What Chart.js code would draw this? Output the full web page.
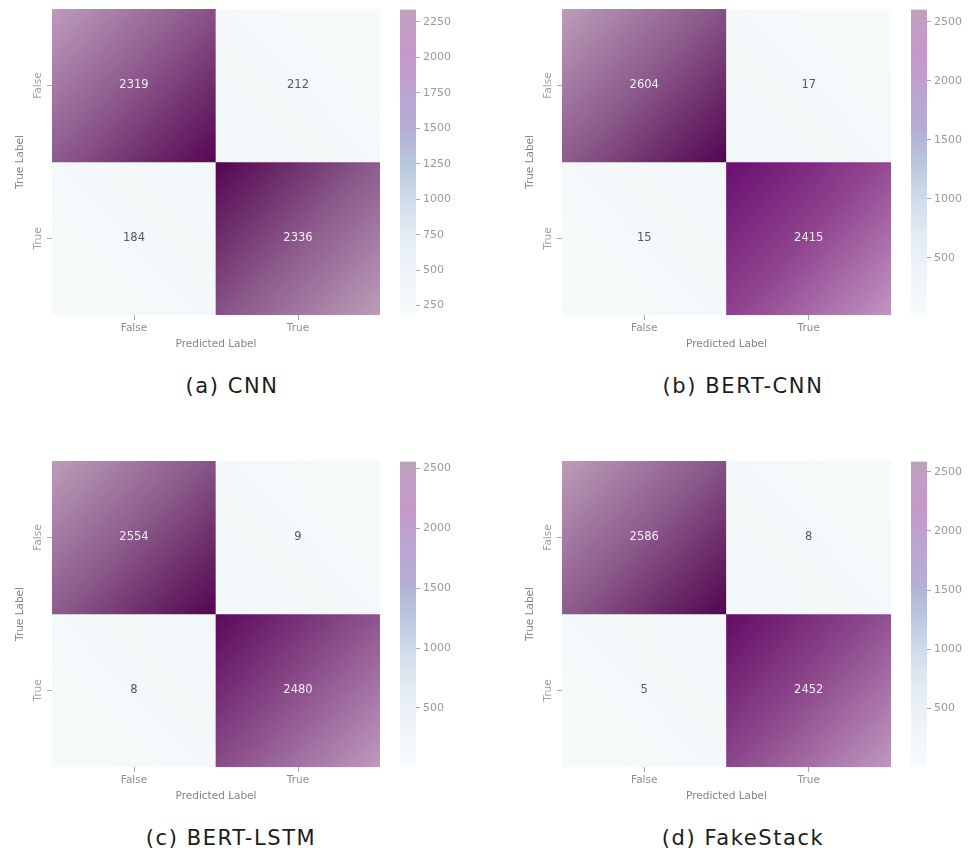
<!DOCTYPE html>
<html>
<head>
<meta charset="utf-8">
<script src="https://cdn.jsdelivr.net/npm/chart.js@4.4.1/dist/chart.umd.min.js"></script>
<style>
  html, body { margin: 0; padding: 0; background: #ffffff; }
  body { width: 974px; height: 854px; position: relative; overflow: hidden; font-family: "DejaVu Sans", sans-serif; }
  canvas { position: absolute; }
  .cap { position: absolute; font-size: 21px; color: #1c1c1c; letter-spacing: 1.6px; white-space: nowrap; transform: translateX(-50%); }
</style>
</head>
<body>
<canvas id="heatA" width="390" height="360" style="left:0px;top:0px"></canvas>
<canvas id="barA" width="75" height="360" style="left:395px;top:0px"></canvas>
<canvas id="heatB" width="391" height="360" style="left:510px;top:0px"></canvas>
<canvas id="barB" width="68" height="360" style="left:906px;top:0px"></canvas>
<canvas id="heatC" width="390" height="360" style="left:0px;top:452px"></canvas>
<canvas id="barC" width="75" height="360" style="left:395px;top:452px"></canvas>
<canvas id="heatD" width="391" height="360" style="left:510px;top:452px"></canvas>
<canvas id="barD" width="68" height="360" style="left:906px;top:452px"></canvas>
<div class="cap" id="capA" style="left:232px;top:374px"></div>
<div class="cap" id="capB" style="left:743px;top:374px"></div>
<div class="cap" id="capC" style="left:231px;top:826px"></div>
<div class="cap" id="capD" style="left:743px;top:826px"></div>

<script>
// Class labels (rows = true label, columns = predicted label)
const rowLabels = ['False', 'True'];
const colLabels = ['False', 'True'];

// Confusion-matrix counts per model, row-major
const cnnCounts      = [[2319, 212], [184, 2336]];
const bertCnnCounts  = [[2604, 17],  [15, 2415]];
const bertLstmCounts = [[2554, 9],   [8, 2480]];
const fakeStackCounts = [[2586, 8],  [5, 2452]];

// Colour-bar tick labels per model
const cnnBarTicks      = [250, 500, 750, 1000, 1250, 1500, 1750, 2000, 2250];
const bertCnnBarTicks  = [500, 1000, 1500, 2000, 2500];
const bertLstmBarTicks = [500, 1000, 1500, 2000, 2500];
const fakeStackBarTicks = [500, 1000, 1500, 2000, 2500];

// Sub-figure captions
const captions = ['(a) CNN', '(b) BERT-CNN', '(c) BERT-LSTM', '(d) FakeStack'];

const FONT = '"DejaVu Sans", sans-serif';

// Faded blue-purple colour map, bottom (0) to top (1)
const mapStops = [
  [0.00, '#f7fbfc'], [0.12, '#f1f5f9'], [0.26, '#e3ebf3'], [0.38, '#d0dcea'],
  [0.50, '#b7c6df'], [0.61, '#b4add6'], [0.73, '#bca3d3'], [0.85, '#c697ca'],
  [0.95, '#c29dc3'], [1.00, '#bba4bb']
];

function hexToRgb(h) { const n = parseInt(h.slice(1), 16); return [(n >> 16) & 255, (n >> 8) & 255, n & 255]; }
function mix(a, b, k) {
  const A = hexToRgb(a), B = hexToRgb(b);
  return 'rgb(' + A.map((v, i) => Math.round(v + (B[i] - v) * k)).join(',') + ')';
}
function range(counts) {
  const flat = counts.flat();
  return [Math.min(...flat), Math.max(...flat)];
}

// Shaded cell fill: light at the outer corner, deepest toward the matrix centre
function cellFill(chart, counts, r, c) {
  const { x, y } = chart.scales;
  if (!x || !y || !chart.chartArea) return '#f4f8fa';
  const [lo, hi] = range(counts);
  const t = (counts[r][c] - lo) / (hi - lo);
  const half = Math.abs(x.getPixelForValue(1) - x.getPixelForValue(0)) / 2;
  const cx = x.getPixelForValue(c);
  const left = cx - half, right = cx + half;
  const top = y.getPixelForValue(r), bottom = y.getPixelForValue(r + 1);
  const inX = c === 0 ? right : left, outX = c === 0 ? left : right;
  const inY = r === 0 ? bottom : top, outY = r === 0 ? top : bottom;
  const g = chart.ctx.createLinearGradient(outX, outY, inX, inY);
  if (t > 0.5) {
    const k = Math.max(0, Math.min(1, (t - 0.9) / 0.1));
    g.addColorStop(0, mix('#c392c3', '#bc9dbb', k));
    g.addColorStop(0.5, mix('#923e92', '#8a5889', k));
    g.addColorStop(1, mix('#72107a', '#520550', k));
  } else {
    g.addColorStop(0, '#f7fafb');
    g.addColorStop(1, '#f2f7f9');
  }
  return g;
}

// Count annotations and rotated row labels
const cellTextPlugin = {
  id: 'cellText',
  afterDatasetsDraw(chart, args, opts) {
    const { ctx, chartArea, scales: { x, y } } = chart;
    const counts = opts.counts;
    const [lo, hi] = range(counts);
    ctx.save();
    ctx.textAlign = 'center';
    ctx.textBaseline = 'middle';
    ctx.font = '11.5px ' + FONT;
    counts.forEach((row, r) => row.forEach((v, c) => {
      const t = (v - lo) / (hi - lo);
      ctx.fillStyle = t > 0.5 ? '#f3ecf3' : '#585858';
      ctx.fillText(String(v), x.getPixelForValue(c), y.getPixelForValue(r + 0.5));
    }));
    ctx.font = '10.5px ' + FONT;
    ctx.fillStyle = '#a0a0a0';
    rowLabels.forEach((lab, r) => {
      ctx.save();
      ctx.translate(chartArea.left - 14, y.getPixelForValue(r + 0.5));
      ctx.rotate(-Math.PI / 2);
      ctx.fillText(lab, 0, 0);
      ctx.restore();
    });
    ctx.restore();
  }
};

function heatmap(id, counts) {
  new Chart(document.getElementById(id), {
    type: 'bar',
    data: {
      labels: colLabels,
      datasets: rowLabels.map((lab, r) => ({
        label: lab,
        data: colLabels.map(() => [r, r + 1]),
        grouped: false,
        categoryPercentage: 1,
        barPercentage: 1,
        borderWidth: 0,
        backgroundColor: (ctx) => cellFill(ctx.chart, counts, r, ctx.dataIndex)
      }))
    },
    options: {
      responsive: false,
      animation: false,
      events: [],
      layout: { padding: { top: 9, right: 10, left: 0, bottom: 0 } },
      plugins: { legend: { display: false }, tooltip: { enabled: false }, cellText: { counts } },
      scales: {
        x: {
          type: 'category',
          grid: { drawOnChartArea: false, drawTicks: true, tickLength: 5, offset: false, color: '#a8a8a8' },
          border: { display: false },
          ticks: { color: '#8e8e8e', font: { family: FONT, size: 10.5 }, padding: 2, maxRotation: 0 },
          title: { display: true, text: 'Predicted Label', color: '#858585', font: { family: FONT, size: 10.5 }, padding: { top: 0, bottom: 9 } },
          afterFit: (s) => { s.height = 45; }
        },
        y: {
          type: 'linear', min: 0, max: 2, reverse: true,
          afterBuildTicks: (s) => { s.ticks = rowLabels.map((_, r) => ({ value: r + 0.5 })); },
          grid: { drawOnChartArea: false, drawTicks: true, tickLength: 5, color: '#a8a8a8' },
          border: { display: false },
          ticks: { display: false },
          title: { display: true, text: 'True Label', color: '#858585', font: { family: FONT, size: 10.5 }, padding: { top: 14, bottom: 0 } },
          afterFit: (s) => { s.width = 52; }
        }
      }
    },
    plugins: [cellTextPlugin]
  });
}

function colorbar(id, counts, tickValues) {
  const [lo, hi] = range(counts);
  new Chart(document.getElementById(id), {
    type: 'bar',
    data: {
      labels: [''],
      datasets: [{
        data: [[lo, hi]],
        categoryPercentage: 1,
        barPercentage: 1,
        borderWidth: 0,
        backgroundColor: (ctx) => {
          const a = ctx.chart.chartArea;
          if (!a) return '#dddddd';
          const g = ctx.chart.ctx.createLinearGradient(0, a.bottom, 0, a.top);
          mapStops.forEach(([p, col]) => g.addColorStop(p, col));
          return g;
        }
      }]
    },
    options: {
      responsive: false,
      animation: false,
      events: [],
      layout: { padding: { top: 9, left: 5, right: 0, bottom: 45 } },
      plugins: { legend: { display: false }, tooltip: { enabled: false } },
      scales: {
        x: { display: false },
        y: {
          type: 'linear', position: 'right', min: lo, max: hi,
          afterBuildTicks: (s) => { s.ticks = tickValues.map((v) => ({ value: v })); },
          grid: { drawOnChartArea: false, drawTicks: true, tickLength: 4, color: '#a8a8a8' },
          border: { display: false },
          ticks: { color: '#9a9a9a', font: { family: FONT, size: 11 }, padding: 3, callback: (v) => String(v) },
          afterFit: (s) => { s.width = s.chart.width - 5 - 16; }
        }
      }
    }
  });
}

heatmap('heatA', cnnCounts);        colorbar('barA', cnnCounts, cnnBarTicks);
heatmap('heatB', bertCnnCounts);    colorbar('barB', bertCnnCounts, bertCnnBarTicks);
heatmap('heatC', bertLstmCounts);   colorbar('barC', bertLstmCounts, bertLstmBarTicks);
heatmap('heatD', fakeStackCounts);  colorbar('barD', fakeStackCounts, fakeStackBarTicks);

['capA', 'capB', 'capC', 'capD'].forEach((id, i) => { document.getElementById(id).textContent = captions[i]; });
</script>
</body>
</html>
